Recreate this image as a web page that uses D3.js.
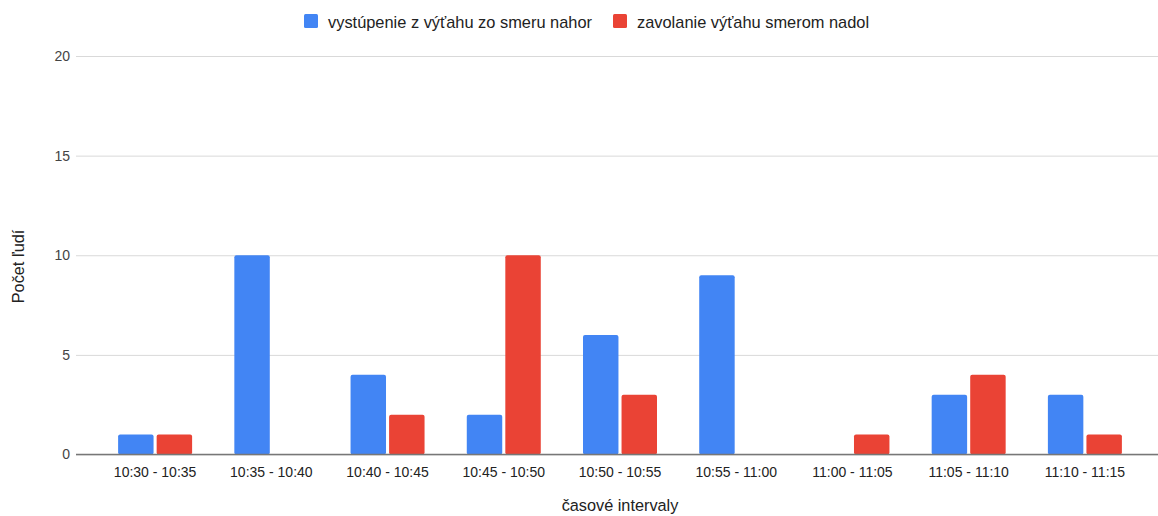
<!DOCTYPE html>
<html>
<head>
<meta charset="utf-8">
<script src="https://cdn.jsdelivr.net/npm/d3@7"></script>
<style>
  html, body { margin: 0; padding: 0; background: #fff; }
  svg { display: block; font-family: Arial, "Liberation Sans", sans-serif; }
</style>
</head>
<body>
<svg id="chart" width="1158" height="516"></svg>
<script>
const categories = ["10:30 - 10:35", "10:35 - 10:40", "10:40 - 10:45", "10:45 - 10:50", "10:50 - 10:55", "10:55 - 11:00", "11:00 - 11:05", "11:05 - 11:10", "11:10 - 11:15"];
const seriesNames = ["vystúpenie z výťahu zo smeru nahor", "zavolanie výťahu smerom nadol"];
const upExits = [1, 10, 4, 2, 6, 9, 0, 3, 3];
const downCalls = [1, 0, 2, 10, 3, 0, 1, 4, 1];
const yTicks = [0, 5, 10, 15, 20];
const colors = ["#4285F4", "#EA4335"];

const svg = d3.select("#chart");
const gridLeft = 76, gridRight = 1158;
const plotTop = 56, plotBottom = 454.5;

const x = d3.scaleBand().domain(categories).range([97, 1143]).paddingInner(0).paddingOuter(0);
const x1 = d3.scaleBand().domain([0, 1]).range([x.bandwidth()/2 - 37, x.bandwidth()/2 + 37]).paddingInner(0.08);
const y = d3.scaleLinear().domain([0, 20]).range([plotBottom, plotTop]);

// gridlines
const yAxis = d3.axisLeft(y).tickValues(yTicks).tickSize(-(gridRight - gridLeft)).tickPadding(7);
const gy = svg.append("g").attr("transform", `translate(${gridLeft},0)`).call(yAxis);
gy.select(".domain").remove();
gy.selectAll(".tick line").attr("stroke", "#d9d9d9").attr("stroke-width", 1);
gy.selectAll(".tick text").attr("fill", "#444").style("font-size", "14px").attr("x", -6);

// bars
const data = categories.map((c, i) => ({ c, vals: [upExits[i], downCalls[i]] }));
const groups = svg.append("g").selectAll("g").data(data).join("g")
  .attr("transform", d => `translate(${x(d.c)},0)`);
groups.selectAll("rect").data(d => d.vals.map((v, k) => ({ v, k })).filter(e => e.v > 0)).join("rect")
  .attr("x", d => x1(d.k))
  .attr("width", x1.bandwidth())
  .attr("y", d => y(d.v))
  .attr("height", d => y(0) - y(d.v))
  .attr("rx", 2)
  .attr("fill", d => colors[d.k]);

// baseline
svg.append("line").attr("x1", gridLeft).attr("x2", gridRight)
  .attr("y1", y(0)).attr("y2", y(0)).attr("stroke", "#777").attr("stroke-width", 1.5);

// x axis labels
const xAxis = d3.axisBottom(x).tickSize(0).tickPadding(13);
const gx = svg.append("g").attr("transform", `translate(0,${y(0)})`).call(xAxis);
gx.select(".domain").remove();
gx.selectAll(".tick text").attr("fill", "#222").style("font-size", "14px");

// axis titles
svg.append("text").attr("x", 620).attr("y", 511).attr("text-anchor", "middle")
  .attr("fill", "#222").style("font-size", "16.3px").text("časové intervaly");
svg.append("text").attr("transform", "translate(24,266.5) rotate(-90)").attr("text-anchor", "middle")
  .attr("fill", "#222").style("font-size", "16.3px").text("Počet ľudí");

// legend
const legend = [{ name: seriesNames[0], x: 304 }, { name: seriesNames[1], x: 613 }];
const lg = svg.append("g").selectAll("g").data(legend).join("g")
  .attr("transform", d => `translate(${d.x},14)`);
lg.append("rect").attr("width", 14).attr("height", 14).attr("rx", 1.5)
  .attr("fill", (d, i) => colors[i]);
lg.append("text").attr("x", 24).attr("y", 13.5).attr("fill", "#222")
  .style("font-size", "16.4px").text(d => d.name);
</script>
</body>
</html>
